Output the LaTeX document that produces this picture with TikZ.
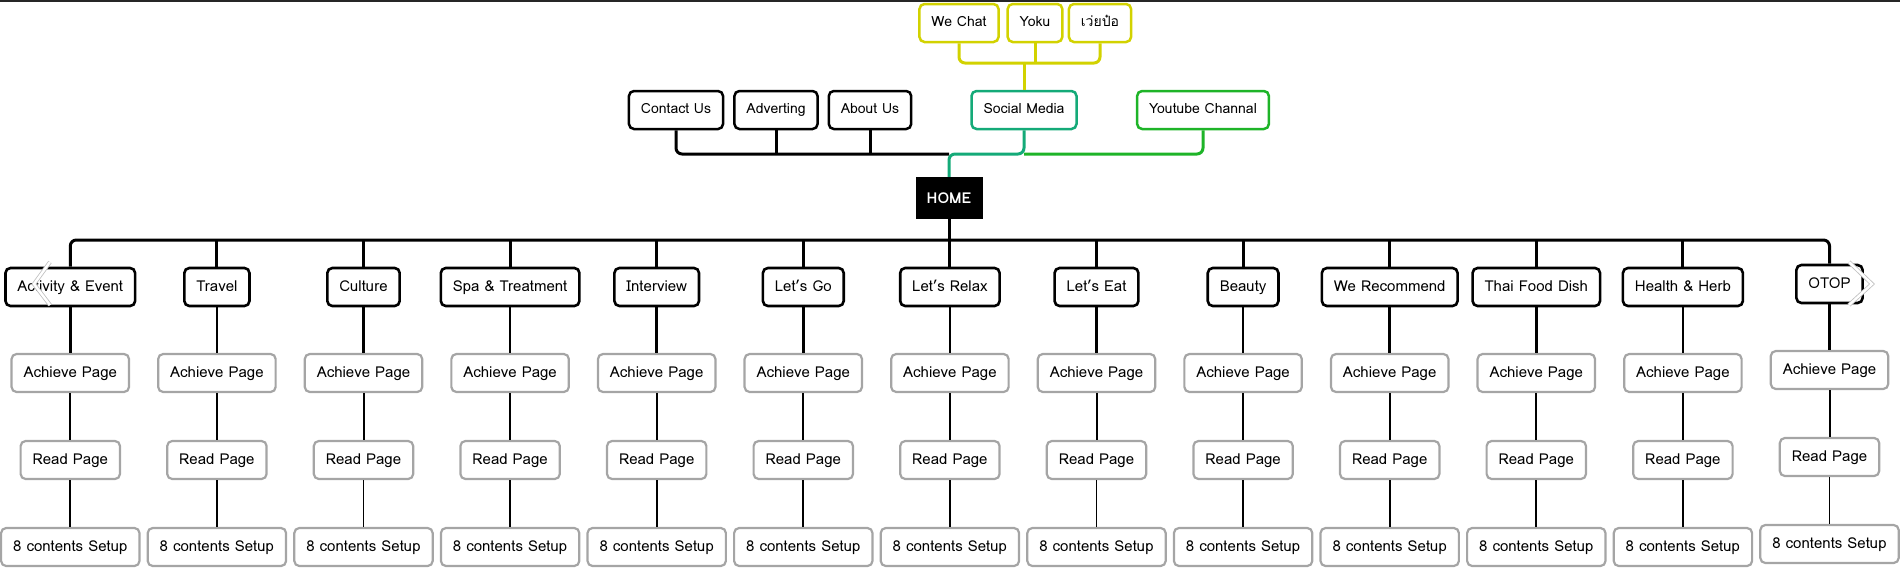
\documentclass[tikz,border=0pt]{standalone}
\usepackage{fontspec}
\setmainfont{Loma}
\newfontfamily\thaifont[Script=Thai]{Loma}
\definecolor{mapyellow}{RGB}{210,210,0}
\definecolor{mapteal}{RGB}{20,170,120}
\definecolor{mapgreen}{RGB}{30,180,40}
\definecolor{mapgray}{RGB}{165,165,165}
\tikzset{
  topbox/.style={draw=#1,line width=2.5pt,rounded corners=5pt,fill=white,minimum height=38pt,inner xsep=12pt,text height=10pt,text depth=3pt,font=\fontsize{14}{16}\selectfont},
  catbox/.style={draw=black,line width=2.6pt,rounded corners=5pt,fill=white,minimum height=38pt,inner xsep=12pt,text height=11pt,text depth=3pt,font=\fontsize{15}{18}\selectfont},
  pagebox/.style={draw=mapgray,line width=2.2pt,rounded corners=5pt,fill=white,minimum height=38pt,inner xsep=12pt,text height=11pt,text depth=3pt,font=\fontsize{15}{18}\selectfont},
  homebox/.style={fill=black,text=white,minimum width=67pt,minimum height=42pt,font=\fontsize{15}{18}\selectfont\bfseries},
  link/.style={draw=#1,line width=3pt,rounded corners=6pt},
  chevron/.style={draw=black!25,double=white,double distance=2.4pt,line width=0.8pt}
}
\begin{document}
\begin{tikzpicture}[x=1pt,y=-1pt]
\path[use as bounding box] (0,0) rectangle (1900.0,568.0);
\draw[line width=1.6pt,black!85] (0,0.8) -- (1900,0.8);
% social row
\node[topbox=mapyellow] (wechat) at (959,23) {We Chat};
\node[topbox=mapyellow] (yoku) at (1035,23) {Yoku};
\node[topbox=mapyellow] (weibo) at (1100,23) {\thaifont เว่ยป๋อ};
% menu row
\node[topbox=black] (contact) at (676,110) {Contact Us};
\node[topbox=black] (advert) at (776,110) {Adverting};
\node[topbox=black] (about) at (870,110) {About Us};
\node[topbox=mapteal] (social) at (1024,110) {Social Media};
\node[topbox=mapgreen] (youtube) at (1203,110) {Youtube Channal};
\node[homebox] (home) at (949,198) {HOME};
\coordinate (ybus) at (1024,63);
\coordinate (hub) at (949,154);
\coordinate (lowhub) at (949,240);
% top connectors
\draw[link=mapyellow] (wechat.south) |- (ybus);
\draw[link=mapyellow] (weibo.south) |- (ybus);
\draw[link=mapyellow] (yoku.south) -- (yoku.south |- ybus);
\draw[link=mapyellow] (ybus) -- (social.north);
\draw[link=black] (contact.south) |- (hub);
\draw[link=black] (advert.south) -- (advert.south |- hub);
\draw[link=black] (about.south) -- (about.south |- hub);
\draw[link=mapgreen] (youtube.south) |- (social.south |- hub);
\draw[link=mapteal] (social.south) |- (hub) -- (home.north);
% sections
\foreach \i/\name/\dy in {1/Activity \& Event/0,2/Travel/0,3/Culture/0,4/Spa \& Treatment/0,
  5/Interview/0,6/Let’s Go/0,7/Let’s Relax/0,8/Let’s Eat/0,9/Beauty/0,10/We Recommend/0,
  11/Thai Food Dish/0,12/Health \& Herb/0,13/OTOP/-3}{
  \pgfmathsetmacro\cx{70.3+146.6*(\i-1)}
  \node[catbox] (cat\i) at (\cx,287+\dy) {\name};
  \node[pagebox] (ach\i) at (\cx,373+\dy) {Achieve Page};
  \node[pagebox] (read\i) at (\cx,460+\dy) {Read Page};
  \node[pagebox] (setup\i) at (\cx,547+\dy) {8 contents Setup};
  \draw[line width=2.7pt] (cat\i) -- (ach\i);
  \draw[line width=2pt] (ach\i) -- (read\i);
  \draw[line width=1.7pt] (read\i) -- (setup\i);
}
\draw[link=black] (home.south) -- (lowhub);
\draw[link=black] (cat1.north) |- (lowhub) -| (cat13.north);
\foreach \i in {2,...,12}
  \draw[line width=3pt] (cat\i.north |- lowhub) -- (cat\i.north);
% slider arrows
\draw[chevron] (50,262) -- (34,284) -- (50,305);
\draw[chevron] (1849,262) -- (1872,284) -- (1849,305);
\end{tikzpicture}
\end{document}
